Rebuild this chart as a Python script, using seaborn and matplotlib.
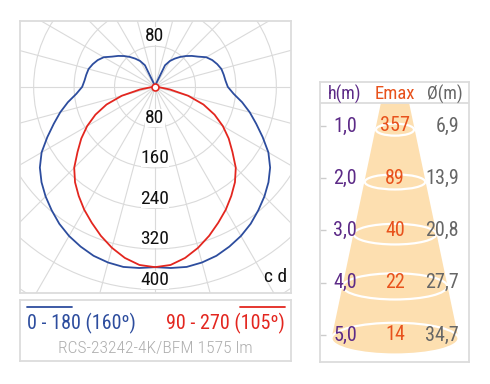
import numpy as np
import pandas as pd
import matplotlib.pyplot as plt
import seaborn as sns
from matplotlib.patches import Circle, Ellipse, Polygon

sns.set_style("white")
plt.rcParams['font.family'] = ['Roboto Condensed', 'Roboto', 'DejaVu Sans']

# photometric curves, angle from nadir (deg) -> cd
angles = list(range(0, 181, 5))
c0_180 = [356, 359, 361, 359, 355, 348, 340, 330, 318, 306, 293, 278, 259,
          235, 213, 194, 175, 156, 144, 140, 138, 136, 131, 125, 117, 104,
          95, 86, 77, 68, 59, 47, 8, 0, 0, 0, 0]
red_angles = list(range(0, 91, 5))
c90_270 = [356, 353, 343, 329, 313, 296, 280, 263, 246, 226, 200, 178, 155,
           130, 102, 68, 30, 8, 0]
ring_labels = [80, 160, 240, 320, 400]

# table on the right
heights = [1.0, 2.0, 3.0, 4.0, 5.0]
emax = [357, 89, 40, 22, 14]
diam = [6.9, 13.9, 20.8, 27.7, 34.7]

BLUE = '#2d4d9e'
RED = '#e3261f'
GRID = '#dadada'
EDGE = '#dcdcdc'
PURPLE = '#5c2a87'
ORANGE = '#e8521c'
CONE = '#fddfb0'
INK = '#111111'


def to_xy(ang, vals):
    a = np.deg2rad(np.concatenate([-np.array(ang[::-1]), np.array(ang[1:])]))
    r = np.concatenate([np.array(vals[::-1]), np.array(vals[1:])])
    return pd.DataFrame({'x': r * np.sin(a), 'y': -r * np.cos(a)})


def frame(a):
    a.set_xticks([])
    a.set_yticks([])
    for s in a.spines.values():
        s.set_color(EDGE)
        s.set_linewidth(1.3)


fig = plt.figure(figsize=(4.9, 3.84), dpi=100)

# ---- polar diagram ----
ax = fig.add_axes([20 / 490, 1 - 293 / 384, 271 / 490, 272 / 384])
ax.set_xlim(-267, 269)
ax.set_ylim(-407, 130)
for a in range(0, 360, 15):
    t = np.deg2rad(a)
    ax.plot([0, 700 * np.sin(t)], [0, -700 * np.cos(t)], color=GRID, lw=0.8, zorder=1)
for R in range(80, 640, 80):
    ax.add_patch(Circle((0, 0), R, fill=False, ec=GRID, lw=0.8, zorder=1))

blue = to_xy(angles, c0_180)
red = to_xy(red_angles, c90_270)
sns.lineplot(data=blue, x='x', y='y', sort=False, estimator=None, color=BLUE, lw=1.3, ax=ax, zorder=3)
sns.lineplot(data=red, x='x', y='y', sort=False, estimator=None, color=RED, lw=1.3, ax=ax, zorder=4)
ax.plot([0], [0], 'o', ms=5, mfc='white', mec=RED, mew=1.2, zorder=5)

ax.text(0, 101, '80', ha='center', va='center', fontsize=14, color=INK,
        bbox=dict(fc='white', ec='none', pad=0), zorder=2)
for v in ring_labels:
    ax.text(0, -(v - 19), str(v), ha='center', va='center', fontsize=14, color=INK,
            bbox=dict(fc='white', ec='none', pad=0), zorder=2)
ax.text(239, -375, 'c d', ha='center', va='center', fontsize=14, color=INK, zorder=2)
ax.set_xlabel('')
ax.set_ylabel('')
frame(ax)

# ---- legend box ----
lg = fig.add_axes([20 / 490, 23 / 384, 271 / 490, 61 / 384])
lg.set_xlim(0, 1)
lg.set_ylim(0, 1)
frame(lg)
lg.plot([0.026, 0.192], [0.885, 0.885], color=BLUE, lw=1.3)
lg.plot([0.812, 0.978], [0.885, 0.885], color=RED, lw=1.3)
lg.text(0.026, 0.62, '0 - 180 (160º)', ha='left', va='center', fontsize=14.5, color=BLUE)
lg.text(0.978, 0.62, '90 - 270 (105º)', ha='right', va='center', fontsize=14.5, color=RED)
lg.text(0.5, 0.2, 'RCS-23242-4K/BFM 1575 lm', ha='center', va='center', fontsize=12.6,
        fontweight=300, color='#aeaeae')

# ---- cone table ----
tb = fig.add_axes([320 / 490, 22 / 384, 149 / 490, 280 / 384])
tb.set_xlim(-75, 74)
tb.set_ylim(5.517, 0.158)
px_per_m = 52.25
hw = [8 + 1.6 * d for d in diam]
top_h = 0.56
hw_top = hw[0] - (hw[1] - hw[0]) * (heights[0] - top_h)
off = 0.07
bot = heights[-1] + off
tb.add_patch(Polygon([(-hw_top, top_h), (hw_top, top_h), (hw[-1], bot), (-hw[-1], bot)],
                     closed=True, fc=CONE, ec='none', zorder=1))
tb.add_patch(Ellipse((0, bot), 2 * hw[-1], 2 * 0.25 * hw[-1] / px_per_m, fc=CONE, ec='none', zorder=1))
for h, w in zip(heights, hw):
    hh = max(6, 0.25 * w)
    tb.add_patch(Ellipse((0, h + off), 2 * w, 2 * hh / px_per_m, fill=False, ec='white', lw=1.6, zorder=2))

tb.axhline(top_h, color=EDGE, lw=1.3, zorder=3)
tb.text(-50, 0.39, 'h(m)', ha='center', va='center', fontsize=13, color=PURPLE)
tb.text(0, 0.39, 'Emax', ha='center', va='center', fontsize=13.5, color=ORANGE)
tb.text(50, 0.39, 'Ø(m)', ha='center', va='center', fontsize=13, color='#666666')
for h, e, d in zip(heights, emax, diam):
    tb.text(-50, h, f'{h:.1f}'.replace('.', ','), ha='center', va='center', fontsize=14.5, color=PURPLE, zorder=4)
    tb.text(0, h, str(e), ha='center', va='center', fontsize=14.5, color=ORANGE, zorder=4)
    tb.text(64, h, f'{d:.1f}'.replace('.', ','), ha='right', va='center', fontsize=14.5, color='#666666', zorder=4)

frame(tb)
tb.set_yticks(heights)
tb.set_yticklabels([])
tb.tick_params(axis='y', direction='in', length=4, width=1, color='#cccccc', left=True)

fig.savefig('out.png', dpi=100)
